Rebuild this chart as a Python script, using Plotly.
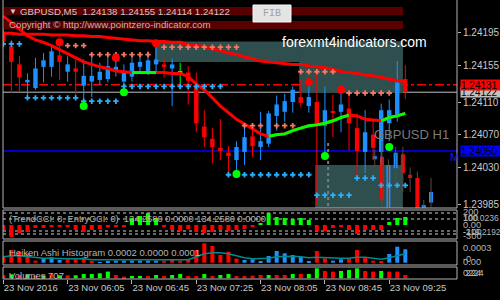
import plotly.graph_objects as go

# ---------------- data ----------------
bar_index = list(range(51))
tick_pos = [0, 8, 16, 24, 32, 40, 48]
tick_text = ["23 Nov 2016", "23 Nov 06:05", "23 Nov 06:45", "23 Nov 07:25",
             "23 Nov 08:05", "23 Nov 08:45", "23 Nov 09:25"]

opens = [1.24196, 1.24178, 1.24156, 1.24134, 1.24127, 1.24153, 1.24153, 1.24167, 1.24147, 1.24151,
         1.24130, 1.24135, 1.24137, 1.24138, 1.24148, 1.24135, 1.24141, 1.24153, 1.24145, 1.24156,
         1.24156, 1.24151, 1.24146, 1.24146, 1.24130, 1.24080, 1.24065, 1.24054, 1.24048, 1.24039,
         1.24049, 1.24068, 1.24055, 1.24059, 1.24093, 1.24098, 1.24110, 1.24116, 1.24105, 1.24110,
         1.24081, 1.24099, 1.24098, 1.24102, 1.24078, 1.24049, 1.24070, 1.24049, 1.24084, 1.24094,
         1.24138]
highs = [1.24199, 1.24186, 1.24166, 1.24145, 1.24164, 1.24170, 1.24178, 1.24183, 1.24166, 1.24162,
         1.24162, 1.24170, 1.24158, 1.24166, 1.24168, 1.24156, 1.24168, 1.24166, 1.24172, 1.24177,
         1.24163, 1.24163, 1.24158, 1.24154, 1.24146, 1.24100, 1.24078, 1.24089, 1.24056, 1.24062,
         1.24081, 1.24082, 1.24098, 1.24099, 1.24118, 1.24120, 1.24129, 1.24137, 1.24129, 1.24147,
         1.24129, 1.24119, 1.24125, 1.24121, 1.24096, 1.24100, 1.24088, 1.24108, 1.24113, 1.24160,
         1.24155]
lows = [1.24180, 1.24121, 1.24122, 1.24115, 1.24125, 1.24134, 1.24141, 1.24137, 1.24135, 1.24116,
        1.24113, 1.24116, 1.24131, 1.24134, 1.24141, 1.24127, 1.24135, 1.24146, 1.24143, 1.24146,
        1.24140, 1.24105, 1.24131, 1.24107, 1.24073, 1.24055, 1.24035, 1.24039, 1.24018, 1.24024,
        1.24033, 1.24043, 1.24039, 1.24055, 1.24075, 1.24086, 1.24097, 1.24104, 1.24097, 1.23984,
        1.24045, 1.24067, 1.24073, 1.24051, 1.24018, 1.24023, 1.24039, 1.24033, 1.24062, 1.24086,
        1.24114]
closes = [1.24184, 1.24159, 1.24140, 1.24137, 1.24151, 1.24161, 1.24172, 1.24159, 1.24156, 1.24147,
          1.24142, 1.24142, 1.24147, 1.24154, 1.24153, 1.24147, 1.24158, 1.24159, 1.24161, 1.24162,
          1.24153, 1.24156, 1.24146, 1.24136, 1.24084, 1.24067, 1.24055, 1.24050, 1.24044, 1.24055,
          1.24067, 1.24056, 1.24062, 1.24096, 1.24107, 1.24111, 1.24125, 1.24109, 1.24116, 1.24083,
          1.24100, 1.24097, 1.24107, 1.24084, 1.24050, 1.24073, 1.24054, 1.24100, 1.24100, 1.24134,
          1.24122]

fast_ma = [1.24215, 1.24207, 1.24198, 1.24191, 1.24186, 1.24183, 1.24179, 1.24174, 1.24169, 1.24164,
           1.24159, 1.24156, 1.24153, 1.24151, 1.24148, 1.24147, 1.24146, 1.24146, 1.24146, 1.24146,
           1.24146, 1.24145, 1.24145, 1.24141, 1.24132, 1.24125, 1.24115, 1.24105, 1.24097, 1.24089,
           1.24083, 1.24077, 1.24071, 1.24068, 1.24070, 1.24071, 1.24075, 1.24078, 1.24081, 1.24082,
           1.24084, 1.24087, 1.24091, 1.24094, 1.24093, 1.24089, 1.24088, 1.24087, 1.24091, 1.24093,
           1.24096]
fast_ma_up = [16, 17, 18, 19, 33, 34, 35, 36, 37, 38, 39, 40, 41, 42, 43, 47, 48, 49, 50]
slow_ma = [1.24194, 1.24194, 1.24193, 1.24193, 1.24193, 1.24193, 1.24192, 1.24192, 1.24192, 1.24191,
           1.24191, 1.24190, 1.24190, 1.24189, 1.24188, 1.24187, 1.24186, 1.24185, 1.24185, 1.24184,
           1.24184, 1.24183, 1.24183, 1.24180, 1.24179, 1.24178, 1.24175, 1.24173, 1.24170, 1.24168,
           1.24165, 1.24163, 1.24160, 1.24159, 1.24158, 1.24157, 1.24156, 1.24156, 1.24154, 1.24153,
           1.24152, 1.24150, 1.24147, 1.24146, 1.24145, 1.24143, 1.24142, 1.24140, 1.24138, 1.24136,
           1.24135]

support_marks = [1.24181] * 3 + [1.24115] * 7 + [1.24111] * 5 + [1.24129] * 13 + [1.24021] * 11 \
    + [1.23996] * 5 + [1.24017] * 3 + [1.24008] * 4
resist_marks = [None] * 8 + [1.24179] * 3 + [1.24168] * 8 + [None] + [1.24177] * 10 \
    + [1.24081] * 3 + [None] + [1.24081] * 3 + [1.24147] * 5 + [None] + [1.24121] * 6 + [None] * 2
red_dot_n = [7, 14, 19, 38, 42]
red_dot_p = [1.24183, 1.24164, 1.24182, 1.24134, 1.24125]
green_dot_n = [10, 15, 29, 40, 48]
green_dot_p = [1.24105, 1.24122, 1.24022, 1.24044, 1.24055]

# second (overlay) candle set at the right
h1_x = [46.2, 47.1, 47.9, 48.8, 49.7, 50.6, 51.5, 52.3, 53.2]
h1_open = [1.24040, 1.24043, 1.23981, 1.24029, 1.24046, 1.24021, 1.24017, 1.23980, 1.23987]
h1_high = [1.24052, 1.24062, 1.24040, 1.24055, 1.24055, 1.24030, 1.24025, 1.23990, 1.24017]
h1_low = [1.24030, 1.23981, 1.23975, 1.24010, 1.24000, 1.24000, 1.23975, 1.23975, 1.23981]
h1_close = [1.24044, 1.23990, 1.24033, 1.24048, 1.24023, 1.24017, 1.23980, 1.23984, 1.24000]

zones = [  # (x0, x1, low, high)
    (18.87, 49.7, 1.24159, 1.24184),
    (36.8, 49.7, 1.24121, 1.24184),
    (38.8, 49.7, 1.23960, 1.24033),
]
level_red, level_bid, level_blue = 1.24131, 1.24122, 1.24050

cci = [-83, -200, -133, -117, -50, -50, -30, -20, -30, -83, -117, -83, -67, -40, -30, -20, 117, 150, 200, 117,
       -33, -83, -100, -67, -117, -133, -117, -83, -100, -83, -67, -33, 30, 200, 133, 117, 100, 117, 83, -100,
       -100, -50, -20, -83, -150, -83, -83, -83, 50, 117, 133]
cci_levels = [200, 100, -100, -150]

ha_hist = [6, 12.7, 11, 9.4, 2, 4.4, 5.4, 2.7, 3.4, 3.4, 5.4, 1, 0.7, 1.7, 2, 2, 2, 2, 2, 2,
           2, 3.4, 2, 3.4, 12.7, 19.4, 16.7, 7.7, 11, 4.1, 2.7, 3.4, 1, 6.7, 11.7, 9.4, 7.7, 6, 1, 11.7,
           4.4, 2, 3.4, 4.4, 12.7, 5.4, 2, 1.7, 8.7, 16, 13.4]
ha_up = ['d', 'd', 'd', 'd', 'd', 'u', 'u', 'u', 'd', 'd', 'd', 'd', 'u', 'u', 'u', 'u', 'u', 'u', 'u', 'u',
         'd', 'd', 'd', 'd', 'd', 'd', 'd', 'd', 'd', 'd', 'u', 'u', 'u', 'u', 'u', 'u', 'u', 'u', 'u', 'd',
         'd', 'u', 'u', 'd', 'd', 'd', 'd', 'd', 'u', 'u', 'u']
ha_signal = [6, 7, 7, 6, 5, 4.5, 4.5, 4, 4, 4, 4, 3, 3, 2.5, 2.5, 2.5, 2.5, 2.5, 2.5, 2.5,
             2.5, 3, 3, 3, 6, 9, 10, 10, 9, 7, 5, 4, 4, 4.5, 6, 6.5, 6.5, 6, 5, 5.5,
             5, 4.5, 4.5, 4.5, 5.5, 5.5, 4.5, 3.5, 5, 7, 9]

volumes = [3, 4, 3, 4, 3, 3, 4, 3, 3, 3, 4.3, 4.3, 5, 6.7, 3.3, 1.7, 2.3, 2.3, 2.3, 3.3,
           2.3, 3.3, 4.3, 2.3, 2.3, 4.3, 2.3, 3.3, 4.3, 2.3, 2.3, 2.7, 3.3, 3.3, 3.3, 3.3, 4.3, 4.3, 4.3, 10,
           7.3, 6.7, 7.3, 8.3, 10, 7.3, 6.7, 7.3, 6.7, 6.7, 3.3]
vol_up = ['d', 'u', 'd', 'u', 'd', 'u', 'd', 'u', 'd', 'u', 'u', 'u', 'u', 'u', 'd', 'd', 'u', 'u', 'd', 'u',
          'd', 'u', 'u', 'd', 'd', 'u', 'd', 'u', 'u', 'd', 'd', 'd', 'd', 'u', 'd', 'd', 'u', 'd', 'u', 'u',
          'd', 'd', 'u', 'u', 'u', 'd', 'd', 'u', 'd', 'd', 'd']

# ---------------- layout helpers (pixels -> paper) ----------------
ML, MR, MT, MB = 3, 43, 0, 21
PW, PH = 500 - ML - MR, 300 - MT - MB


def xp(px):
    return (px - ML) / PW


def yp(py):
    return (PH - (py - MT)) / PH


FONT = "Liberation Sans, Arial, sans-serif"
GRAY = "#c8c8c8"
RED, BLUE, LIME = "#ff0000", "#1e90ff", "#00ff00"

fig = go.Figure()

# candle wicks
for col, sel in ((RED, lambda o, c: c < o), (BLUE, lambda o, c: c > o), (LIME, lambda o, c: c == o)):
    wx, wy = [], []
    for i in bar_index:
        if sel(opens[i], closes[i]):
            wx += [i, i, None]
            wy += [lows[i], highs[i], None]
    fig.add_trace(go.Scatter(x=wx, y=wy, mode="lines", line=dict(color=col, width=1),
                             hoverinfo="skip", showlegend=False))

# overlay candle set wicks
wx, wy = [], []
for i in range(len(h1_x)):
    wx += [h1_x[i], h1_x[i], None]
    wy += [h1_low[i], h1_high[i], None]
fig.add_trace(go.Scatter(x=wx, y=wy, mode="lines", line=dict(color="#5a4a3c", width=1),
                         hoverinfo="skip", showlegend=False))

body_base = [min(o, c) for o, c in zip(opens, closes)]
body_h = [max(abs(c - o), 0.000012) for o, c in zip(opens, closes)]
body_col = [RED if c < o else (BLUE if c > o else LIME) for o, c in zip(opens, closes)]
fig.add_trace(go.Bar(x=bar_index, y=body_h, base=body_base, width=0.55,
                     marker=dict(color=body_col, line=dict(width=0)), showlegend=False))
fig.add_trace(go.Bar(x=h1_x, y=[max(abs(c - o), 0.000012) for o, c in zip(h1_open, h1_close)],
                     base=[min(o, c) for o, c in zip(h1_open, h1_close)], width=0.5,
                     marker=dict(color=[RED if c < o else BLUE for o, c in zip(h1_open, h1_close)],
                                 line=dict(width=0)), showlegend=False))

# moving averages
fig.add_trace(go.Scatter(x=bar_index, y=slow_ma, mode="lines", line=dict(color=RED, width=3),
                         showlegend=False))
fig.add_trace(go.Scatter(x=bar_index, y=fast_ma, mode="lines", line=dict(color=RED, width=3),
                         showlegend=False))
fig.add_trace(go.Scatter(x=bar_index, y=[fast_ma[i] if i in fast_ma_up else None for i in bar_index],
                         mode="lines", line=dict(color=LIME, width=3), showlegend=False))

# dotted vertical marker line
fig.add_trace(go.Scatter(x=[40.4, 40.4], y=[1.24060, 1.23975], mode="lines",
                         line=dict(color="#7a7a7a", width=2, dash="dot"), showlegend=False))

# markers
fig.add_trace(go.Scatter(x=bar_index, y=support_marks, mode="markers",
                         marker=dict(symbol="cross", size=4.5, color="#2ab0ff", line=dict(width=0)),
                         showlegend=False))
fig.add_trace(go.Scatter(x=bar_index, y=resist_marks, mode="markers",
                         marker=dict(symbol="cross", size=4.5, color="#f4775e", line=dict(width=0)),
                         showlegend=False))
fig.add_trace(go.Scatter(x=red_dot_n, y=red_dot_p, mode="markers",
                         marker=dict(size=8, color=RED), showlegend=False))
fig.add_trace(go.Scatter(x=green_dot_n, y=green_dot_p, mode="markers",
                         marker=dict(size=8, color=LIME), showlegend=False))

# CCI panel
fig.add_trace(go.Bar(x=bar_index, y=cci, width=0.5, yaxis="y2",
                     marker=dict(color=[LIME if v > 0 else RED for v in cci], line=dict(width=0)),
                     showlegend=False))
# Heiken Ashi histogram panel
fig.add_trace(go.Bar(x=bar_index, y=ha_hist, width=0.5, yaxis="y3",
                     marker=dict(color=[BLUE if u == 'u' else RED for u in ha_up], line=dict(width=0)),
                     showlegend=False))
fig.add_trace(go.Scatter(x=bar_index, y=ha_signal, yaxis="y3", mode="lines",
                         line=dict(color="#008b8b", width=1.5), showlegend=False))
# Volumes panel
fig.add_trace(go.Bar(x=bar_index, y=volumes, width=0.5, yaxis="y4",
                     marker=dict(color=[LIME if u == 'u' else RED for u in vol_up], line=dict(width=0)),
                     showlegend=False))

shapes = []
for x0, x1, lo, hi in zones:
    shapes.append(dict(type="rect", xref="x", yref="y", x0=x0, x1=x1, y0=lo, y1=hi,
                       fillcolor="#2f4f4f", line=dict(width=0), layer="below"))
shapes.append(dict(type="line", xref="paper", yref="y", x0=0, x1=1, y0=level_red, y1=level_red,
                   line=dict(color=RED, width=1.5, dash="9px,3px,3px,3px"), layer="below"))
shapes.append(dict(type="line", xref="paper", yref="y", x0=0, x1=1, y0=level_bid, y1=level_bid,
                   line=dict(color="#c0c0c0", width=1), layer="below"))
shapes.append(dict(type="line", xref="paper", yref="y", x0=0, x1=1, y0=level_blue, y1=level_blue,
                   line=dict(color="#0000ff", width=1.5), layer="below"))
for lv in cci_levels:
    shapes.append(dict(type="line", xref="paper", yref="y2", x0=0, x1=1, y0=lv, y1=lv,
                       line=dict(color="#d0d0d0", width=1, dash="3px,3px"), layer="below"))
# header bands
for top, bot in ((7, 15), (21, 29)):
    shapes.append(dict(type="rect", xref="paper", yref="paper", x0=xp(4), x1=xp(403),
                       y0=yp(bot), y1=yp(top), fillcolor="#580000", line=dict(width=0), layer="below"))
# FIB button
shapes.append(dict(type="rect", xref="paper", yref="paper", x0=xp(253), x1=xp(291), y0=yp(22), y1=yp(5),
                   fillcolor="#e4e4e4", line=dict(color="#f4f4f4", width=1)))
# panel borders
for top, bot in ((-5, 208), (210, 239), (241, 265), (267, 279)):
    shapes.append(dict(type="rect", xref="paper", yref="paper", x0=0, x1=1, y0=yp(bot), y1=yp(top),
                       line=dict(color="#b4b4b4", width=1), fillcolor="rgba(0,0,0,0)"))

nb = "\u00a0"
ann = []


def txt(px, py, text, size=10, color=GRAY, anchor="left", family=FONT, **kw):
    d = dict(xref="paper", yref="paper", x=xp(px), y=yp(py), text=text, showarrow=False,
             xanchor=anchor, yanchor="middle", font=dict(size=size, color=color, family=family))
    d.update(kw)
    ann.append(d)


txt(7, 11, "\u25bc", size=8, color="#d0d0d0")
txt(18, 11, f"GBPUSD,M5{nb}{nb}1.24138 1.24155 1.24114 1.24122", size=9.7)
txt(7, 24.5, "Copyright \u00a9 http://www.pointzero-indicator.com", size=9.7, color="#b8b8b8")
txt(272, 13.5, "FIB", size=10, color="#a0a0a0", anchor="center", family="Liberation Mono, monospace")
txt(280, 42, "forexmt4indicators.com", size=14, color="#ffffff")
txt(372, 134, "GBPUSD H1", size=13, color="#7a7a7a")
txt(448, 157, "M", size=11, color="#1a1aff")
txt(7, 219, f"(TrendCCI: 8, EntryCCI: 0){nb}{nb}134.2580 0.0000 134.2580 0.0000", size=9.3, color="#b4b4b4")
txt(7, 252, "Heiken Ashi Histogram 0.0002 0.0000 0.0001", size=9.5, color="#b4b4b4")
txt(7, 275, "Volumes 707", size=9.5, color="#b4b4b4")

# right side value boxes (bid box first so the red box sits on top)
for val, col in ((level_bid, "#c0c0c0"), (level_blue, "#0000ff"), (level_red, RED)):
    ann.append(dict(xref="paper", yref="y", x=1, xshift=3, y=val, text=f"{val:.5f}", showarrow=False,
                    xanchor="left", yanchor="middle", bgcolor=col, borderpad=0, width=40, height=10,
                    align="left", valign="middle", font=dict(size=10, color="#000000", family=FONT)))
# sub-panel scale labels (overlapping as in the original terminal)
for py, t, sz in ((212, "200", 9.3), (217.5, "100.0236", 8.6), (217.5, "100", 9.3), (224.5, "0.00", 9.3),
                  (232, "-219.2192", 8.3), (232, "-100", 9.3), (235.5, "-300", 9.3), (248, "0.0003", 9.3),
                  (259, "-0", 9.3), (262, "0.00", 9.3), (273, "0224", 9.3), (273, " 224", 9.3)):
    txt(461, py, t, size=sz, color="#b4b4b4")

fig.update_layout(
    width=500, height=300, margin=dict(l=ML, r=MR, t=MT, b=MB, autoexpand=False),
    paper_bgcolor="#000000", plot_bgcolor="#000000",
    barmode="overlay", showlegend=False, shapes=shapes, annotations=ann,
    xaxis=dict(anchor="y4", range=[-0.04, 56.43], tickvals=tick_pos, ticktext=tick_text,
               ticks="outside", ticklen=4, tickcolor="#b4b4b4", ticklabelposition="outside right",
               tickangle=0, automargin=False,
               tickfont=dict(size=9.5, color=GRAY, family=FONT), showgrid=False, zeroline=False,
               showline=False),
    yaxis=dict(domain=[yp(208), 1], range=[1.2398035, 1.2423475], side="right", anchor="x",
               tickvals=[1.24195, 1.24155, 1.24110, 1.24070, 1.24030, 1.23985],
               ticktext=["1.24195", "1.24155", "1.24110", "1.24070", "1.24030", "1.23985"],
               ticks="outside", ticklen=3, tickcolor="#b4b4b4", automargin=False,
               tickfont=dict(size=10, color=GRAY, family=FONT), showgrid=False, zeroline=False),
    yaxis2=dict(domain=[yp(239), yp(210)], range=[-233.3, 250], anchor="x", showticklabels=False,
                showgrid=False, zeroline=False, automargin=False),
    yaxis3=dict(domain=[yp(265), yp(241)], range=[-2.3, 21.7], anchor="x", showticklabels=False,
                showgrid=False, zeroline=False, automargin=False),
    yaxis4=dict(domain=[0, yp(267)], range=[-0.7, 11.3], anchor="x", showticklabels=False,
                showgrid=False, zeroline=False, automargin=False),
)

fig.write_html("out.html")
